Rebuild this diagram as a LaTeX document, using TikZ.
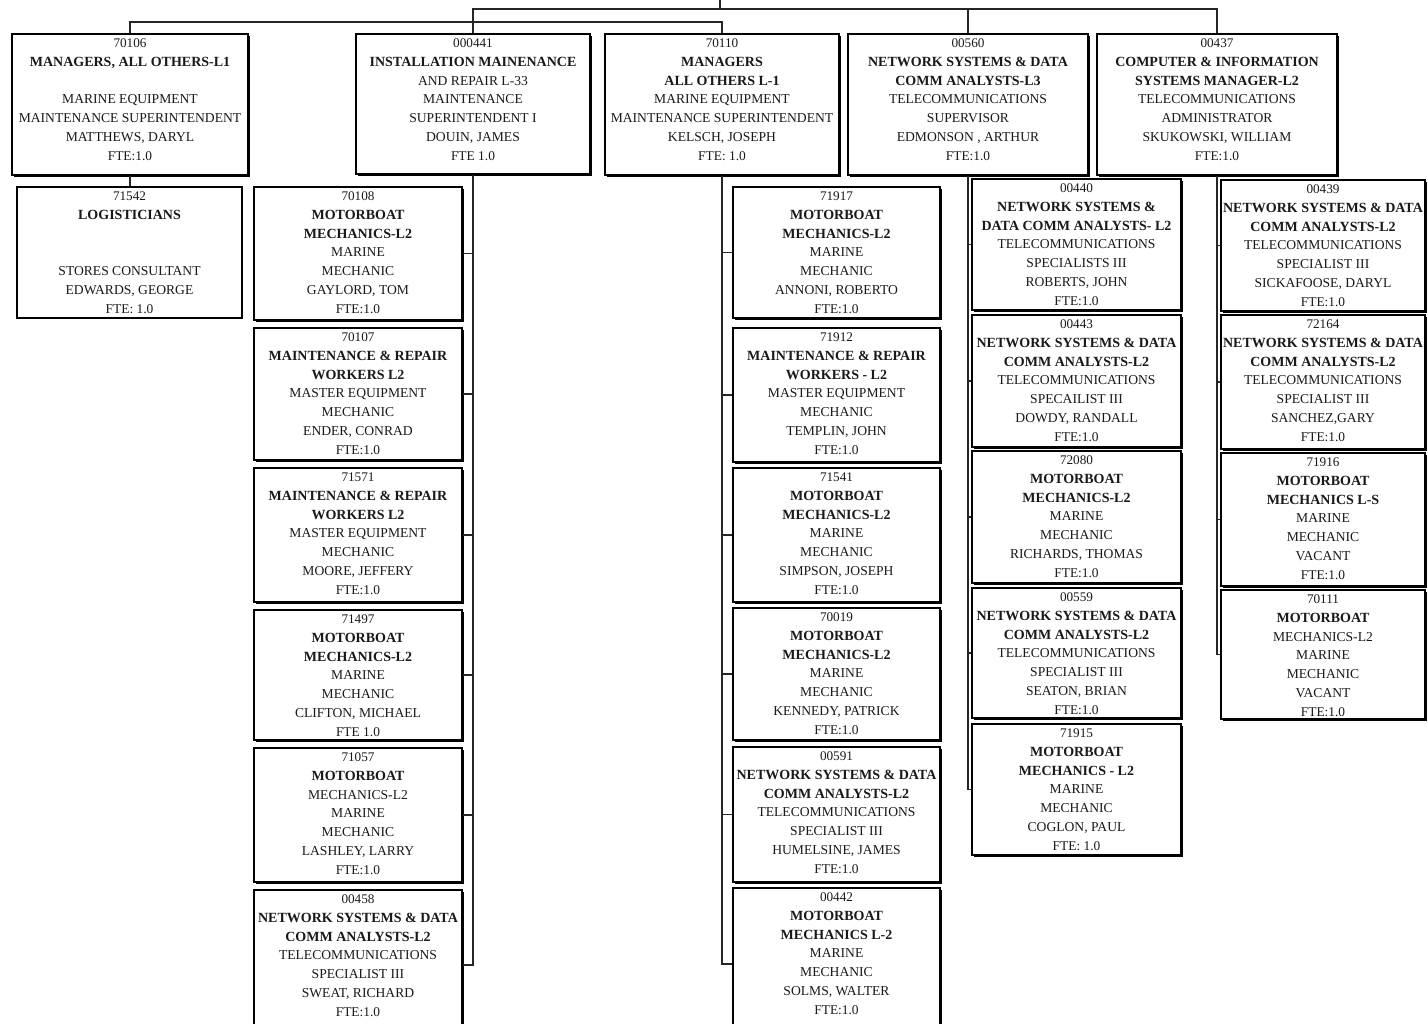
\documentclass[tikz,border=0pt]{standalone}
\usepackage{fontspec}
\setmainfont{Liberation Serif}
\usetikzlibrary{shadows}

\definecolor{ink}{gray}{0.1}

% position numbers, FTE lines and bold class titles
\newcommand\poscode[1]{{\fontsize{6.6}{9.4}\selectfont #1}}
\newcommand\fteline[1]{{\fontsize{6.7}{9.4}\selectfont #1}}
\newcommand\classline[1]{{\fontsize{7.0}{9.4}\selectfont\bfseries #1}}

% one org-chart card: [style]{name}{x1}{y1}{x2}{y2}{lines}
\newcommand\orgcard[7][card]{%
  \node[#1, minimum width={(#5-#3)*0.5pt}, minimum height={(#6-#4)*0.5pt}]
    (#2) at ({(#3+#5)/2},{(#4+#6)/2}) {};
  \node[cardtext] (#2t) at (#2.north) {#7};
}

\tikzset{
  plaincard/.style={draw=black, line width=0.7pt, fill=white, inner sep=0pt},
  card/.style={plaincard,
    drop shadow={shadow xshift=1.2pt, shadow yshift=-1.2pt, fill=black, opacity=1}},
  cardtext/.style={anchor=north, inner sep=0pt, yshift=-2.55pt, align=center,
    text=ink, font=\fontsize{6.8}{9.4}\selectfont},
  link/.style={draw=black!85, line width=0.55pt},
}

\begin{document}
\begin{tikzpicture}[x=0.5pt, y=-0.5pt]
\useasboundingbox (0,0) rectangle (1428,1023);
\fill[white] (0,0) rectangle (1428,1023);
\clip (0,0) rectangle (1428,1023);

% ---------- top row ----------
\orgcard{b70106}{12}{34}{248}{175}{\poscode{70106}\\ \classline{MANAGERS, ALL OTHERS-L1}\\[9.4pt] MARINE EQUIPMENT\\ MAINTENANCE SUPERINTENDENT\\ MATTHEWS, DARYL\\ \fteline{FTE:1.0}}
\orgcard{b00441}{356}{34}{590}{174}{\poscode{000441}\\ \classline{INSTALLATION MAINENANCE}\\ AND REPAIR L-33\\ MAINTENANCE\\ SUPERINTENDENT I\\ DOUIN, JAMES\\ \fteline{FTE 1.0}}
\orgcard{b70110}{605}{34}{839}{175}{\poscode{70110}\\ \classline{MANAGERS}\\ \classline{ALL OTHERS L-1}\\ MARINE EQUIPMENT\\ MAINTENANCE SUPERINTENDENT\\ KELSCH, JOSEPH\\ \fteline{FTE: 1.0}}
\orgcard{b00560}{848}{34}{1088}{175}{\poscode{00560}\\ \classline{NETWORK SYSTEMS \& DATA}\\ \classline{COMM ANALYSTS-L3}\\ TELECOMMUNICATIONS\\ SUPERVISOR\\ EDMONSON , ARTHUR\\ \fteline{FTE:1.0}}
\orgcard{b00437}{1097}{34}{1337}{175}{\poscode{00437}\\ \classline{COMPUTER \& INFORMATION}\\ \classline{SYSTEMS MANAGER-L2}\\ TELECOMMUNICATIONS\\ ADMINISTRATOR\\ SKUKOWSKI, WILLIAM\\ \fteline{FTE:1.0}}

% ---------- column 1 ----------
\orgcard[plaincard]{b71542}{17}{187}{242}{318}{\poscode{71542}\\ \classline{LOGISTICIANS}\\[18.8pt] STORES CONSULTANT\\ EDWARDS, GEORGE\\ \fteline{FTE: 1.0}}

% ---------- column 2 ----------
\orgcard{b70108}{254}{187}{462}{320}{\poscode{70108}\\ \classline{MOTORBOAT}\\ \classline{MECHANICS-L2}\\ MARINE\\ MECHANIC\\ GAYLORD, TOM\\ \fteline{FTE:1.0}}
\orgcard{b70107}{254}{328}{462}{460}{\poscode{70107}\\ \classline{MAINTENANCE \& REPAIR}\\ \classline{WORKERS L2}\\ MASTER EQUIPMENT\\ MECHANIC\\ ENDER, CONRAD\\ \fteline{FTE:1.0}}
\orgcard{b71571}{254}{468}{462}{602}{\poscode{71571}\\ \classline{MAINTENANCE \& REPAIR}\\ \classline{WORKERS L2}\\ MASTER EQUIPMENT\\ MECHANIC\\ MOORE, JEFFERY\\ \fteline{FTE:1.0}}
\orgcard{b71497}{254}{610}{462}{740}{\poscode{71497}\\ \classline{MOTORBOAT}\\ \classline{MECHANICS-L2}\\ MARINE\\ MECHANIC\\ CLIFTON, MICHAEL\\ \fteline{FTE 1.0}}
\orgcard{b71057}{254}{748}{462}{882}{\poscode{71057}\\ \classline{MOTORBOAT}\\ MECHANICS-L2\\ MARINE\\ MECHANIC\\ LASHLEY, LARRY\\ \fteline{FTE:1.0}}
\orgcard{b00458}{254}{890}{462}{1040}{\poscode{00458}\\ \classline{NETWORK SYSTEMS \& DATA}\\ \classline{COMM ANALYSTS-L2}\\ TELECOMMUNICATIONS\\ SPECIALIST III\\ SWEAT, RICHARD\\ \fteline{FTE:1.0}}

% ---------- column 3 ----------
\orgcard{b71917}{733}{187}{940}{318}{\poscode{71917}\\ \classline{MOTORBOAT}\\ \classline{MECHANICS-L2}\\ MARINE\\ MECHANIC\\ ANNONI, ROBERTO\\ \fteline{FTE:1.0}}
\orgcard{b71912}{733}{328}{940}{462}{\poscode{71912}\\ \classline{MAINTENANCE \& REPAIR}\\ \classline{WORKERS - L2}\\ MASTER EQUIPMENT\\ MECHANIC\\ TEMPLIN, JOHN\\ \fteline{FTE:1.0}}
\orgcard{b71541}{733}{468}{940}{602}{\poscode{71541}\\ \classline{MOTORBOAT}\\ \classline{MECHANICS-L2}\\ MARINE\\ MECHANIC\\ SIMPSON, JOSEPH\\ \fteline{FTE:1.0}}
\orgcard{b70019}{733}{608}{940}{740}{\poscode{70019}\\ \classline{MOTORBOAT}\\ \classline{MECHANICS-L2}\\ MARINE\\ MECHANIC\\ KENNEDY, PATRICK\\ \fteline{FTE:1.0}}
\orgcard{b00591}{733}{747}{940}{882}{\poscode{00591}\\ \classline{NETWORK SYSTEMS \& DATA}\\ \classline{COMM ANALYSTS-L2}\\ TELECOMMUNICATIONS\\ SPECIALIST III\\ HUMELSINE, JAMES\\ \fteline{FTE:1.0}}
\orgcard{b00442}{733}{888}{940}{1040}{\poscode{00442}\\ \classline{MOTORBOAT}\\ \classline{MECHANICS L-2}\\ MARINE\\ MECHANIC\\ SOLMS, WALTER\\ \fteline{FTE:1.0}}

% ---------- column 4 ----------
\orgcard{b00440}{972}{179}{1181}{310}{\poscode{00440}\\ \classline{NETWORK SYSTEMS \&}\\ \classline{DATA COMM ANALYSTS- L2}\\ TELECOMMUNICATIONS\\ SPECIALISTS III\\ ROBERTS, JOHN\\ \fteline{FTE:1.0}}
\orgcard{b00443}{972}{315}{1181}{447}{\poscode{00443}\\ \classline{NETWORK SYSTEMS \& DATA}\\ \classline{COMM ANALYSTS-L2}\\ TELECOMMUNICATIONS\\ SPECAILIST III\\ DOWDY, RANDALL\\ \fteline{FTE:1.0}}
\orgcard{b72080}{972}{451}{1181}{583}{\poscode{72080}\\ \classline{MOTORBOAT}\\ \classline{MECHANICS-L2}\\ MARINE\\ MECHANIC\\ RICHARDS, THOMAS\\ \fteline{FTE:1.0}}
\orgcard{b00559}{972}{588}{1181}{718}{\poscode{00559}\\ \classline{NETWORK SYSTEMS \& DATA}\\ \classline{COMM ANALYSTS-L2}\\ TELECOMMUNICATIONS\\ SPECIALIST III\\ SEATON, BRIAN\\ \fteline{FTE:1.0}}
\orgcard{b71915}{972}{724}{1181}{855}{\poscode{71915}\\ \classline{MOTORBOAT}\\ \classline{MECHANICS - L2}\\ MARINE\\ MECHANIC\\ COGLON, PAUL\\ \fteline{FTE: 1.0}}

% ---------- column 5 ----------
\orgcard{b00439}{1221}{180}{1425}{311}{\poscode{00439}\\ \classline{NETWORK SYSTEMS \& DATA}\\ \classline{COMM ANALYSTS-L2}\\ TELECOMMUNICATIONS\\ SPECIALIST III\\ SICKAFOOSE, DARYL\\ \fteline{FTE:1.0}}
\orgcard{b72164}{1221}{315}{1425}{449}{\poscode{72164}\\ \classline{NETWORK SYSTEMS \& DATA}\\ \classline{COMM ANALYSTS-L2}\\ TELECOMMUNICATIONS\\ SPECIALIST III\\ SANCHEZ,GARY\\ \fteline{FTE:1.0}}
\orgcard{b71916}{1221}{453}{1425}{586}{\poscode{71916}\\ \classline{MOTORBOAT}\\ \classline{MECHANICS L-S}\\ MARINE\\ MECHANIC\\ VACANT\\ \fteline{FTE:1.0}}
\orgcard{b70111}{1221}{590}{1425}{719}{\poscode{70111}\\ \classline{MOTORBOAT}\\ MECHANICS-L2\\ MARINE\\ MECHANIC\\ VACANT\\ \fteline{FTE:1.0}}

% ---------- connectors between the top row ----------
\coordinate (feed) at (720,0);
\coordinate (railA) at (0,9);
\coordinate (railB) at (0,22);
\draw[link] (feed) -- (feed |- railA);
\draw[link] (b00441.north) -- (b00441.north |- railA) -- (b00437.north |- railA) -- (b00437.north);
\draw[link] (b00560.north) -- (b00560.north |- railA);
\draw[link] (b70106.north) -- (b70106.north |- railB) -- (b70110.north |- railB) -- (b70110.north);

% ---------- column connectors ----------
\draw[link] (b70106.south) -- (b70106.south |- b71542.north);

\draw[link] (b00441.south) |- (b00458.east);
\foreach \n in {b70108,b70107,b71571,b71497,b71057}
  \draw[link] (\n.east) -- (\n.east -| b00441.south);

\draw[link] (b70110.south) |- (b00442.west);
\foreach \n in {b71917,b71912,b71541,b70019,b00591}
  \draw[link] (\n.west) -- (\n.west -| b70110.south);

\draw[link] (b00560.south) |- (b71915.west);
\foreach \n in {b00440,b00443,b72080,b00559}
  \draw[link] (\n.west) -- (\n.west -| b00560.south);

\draw[link] (b00437.south) |- (b70111.west);
\foreach \n in {b00439,b72164,b71916}
  \draw[link] (\n.west) -- (\n.west -| b00437.south);
\end{tikzpicture}
\end{document}
